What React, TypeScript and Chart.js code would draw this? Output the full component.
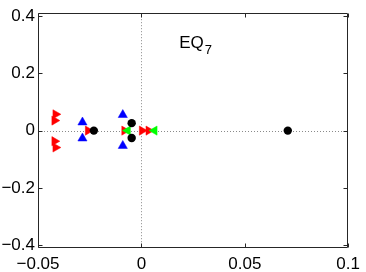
import React, { useEffect, useRef } from "react";
import { Chart, registerables } from "chart.js";

Chart.register(...registerables);

// ---- data ----
const redRight = [
  { x: -0.0415, y: 0.057 },
  { x: -0.042, y: 0.035 },
  { x: -0.042, y: -0.037 },
  { x: -0.0415, y: -0.059 },
  { x: -0.0258, y: 0 },
  { x: -0.0082, y: 0 },
  { x: 0.0003, y: 0 },
  { x: 0.0035, y: 0 },
];
const blueUp = [
  { x: -0.0285, y: 0.029 },
  { x: -0.0285, y: -0.027 },
  { x: -0.009, y: 0.055 },
  { x: -0.009, y: -0.053 },
];
const greenLeft = [
  { x: -0.0066, y: 0 },
  { x: 0.0063, y: 0 },
];
const blackDots = [
  { x: -0.023, y: 0 },
  { x: -0.0047, y: 0.026 },
  { x: -0.0047, y: -0.026 },
  { x: 0.0708, y: 0 },
];

const xTickValues = [-0.05, 0, 0.05, 0.1];
const xTickLabels = ["\u22120.05", "0", "0.05", "0.1"];
const yTickValues = [-0.4, -0.2, 0, 0.2, 0.4];
const yTickLabels = ["\u22120.4", "\u22120.2", "0", "0.2", "0.4"];
const xRange = [-0.05, 0.1];
const yRange = [-0.41, 0.41];

const titleMain = "EQ";
const titleSub = "7";
const titleAt = { x: 0.0183, y: 0.29 };

const FONT = "'Liberation Sans', Arial, Helvetica, sans-serif";

const framePlugin = {
  id: "frame",
  beforeDatasetsDraw(chart: any) {
    const { ctx, chartArea: a, scales } = chart;
    const xs = scales.x;
    const ys = scales.y;
    ctx.save();
    ctx.strokeStyle = "#8a8a8a";
    ctx.lineWidth = 1;
    ctx.setLineDash([1, 2]);
    const x0 = Math.round(xs.getPixelForValue(0)) + 0.5;
    const y0 = Math.round(ys.getPixelForValue(0)) + 0.5;
    ctx.beginPath();
    ctx.moveTo(x0, a.top);
    ctx.lineTo(x0, a.bottom);
    ctx.moveTo(a.left, y0);
    ctx.lineTo(a.right, y0);
    ctx.stroke();
    ctx.restore();
  },
  afterDraw(chart: any) {
    const { ctx, chartArea: a, scales } = chart;
    const xs = scales.x;
    const ys = scales.y;
    ctx.save();
    ctx.strokeStyle = "#262626";
    ctx.lineWidth = 1;
    const L = Math.round(a.left) + 0.5;
    const R = Math.round(a.right) - 0.5;
    const T = Math.round(a.top) + 0.5;
    const B = Math.round(a.bottom) - 0.5;
    ctx.beginPath();
    ctx.rect(L, T, R - L, B - T);
    const tl = 4;
    xs.ticks.forEach((t: any) => {
      const p = Math.round(xs.getPixelForValue(t.value)) + 0.5;
      ctx.moveTo(p, B);
      ctx.lineTo(p, B - tl);
      ctx.moveTo(p, T);
      ctx.lineTo(p, T + tl);
    });
    ys.ticks.forEach((t: any) => {
      const p = Math.round(ys.getPixelForValue(t.value)) + 0.5;
      ctx.moveTo(L, p);
      ctx.lineTo(L + tl, p);
      ctx.moveTo(R, p);
      ctx.lineTo(R - tl, p);
    });
    ctx.stroke();

    // annotation
    ctx.fillStyle = "#000";
    ctx.textBaseline = "alphabetic";
    ctx.textAlign = "left";
    ctx.font = `17px ${FONT}`;
    const tx = xs.getPixelForValue(titleAt.x);
    const ty = ys.getPixelForValue(titleAt.y);
    ctx.fillText(titleMain, tx, ty);
    const w = ctx.measureText(titleMain).width;
    ctx.font = `13px ${FONT}`;
    ctx.fillText(titleSub, tx + w + 1, ty + 6);
    ctx.restore();
  },
};

export default function App() {
  const ref = useRef<HTMLCanvasElement | null>(null);
  useEffect(() => {
    if (!ref.current) return;
    Chart.defaults.font.family = FONT;
    const chart = new Chart(ref.current, {
      type: "scatter",
      data: {
        datasets: [
          {
            label: "red",
            data: redRight,
            pointStyle: "triangle",
            rotation: 90,
            pointRadius: 5.3,
            backgroundColor: "#ff0000",
            borderColor: "#ff0000",
            borderWidth: 0.5,
            order: 4,
          },
          {
            label: "blue",
            data: blueUp,
            pointStyle: "triangle",
            rotation: 0,
            pointRadius: 5.3,
            backgroundColor: "#0000ff",
            borderColor: "#0000ff",
            borderWidth: 0.5,
            order: 3,
          },
          {
            label: "green",
            data: greenLeft,
            pointStyle: "triangle",
            rotation: -90,
            pointRadius: 5.3,
            backgroundColor: "#00ff00",
            borderColor: "#00ff00",
            borderWidth: 0.5,
            order: 2,
          },
          {
            label: "black",
            data: blackDots,
            pointStyle: "circle",
            pointRadius: 4.2,
            backgroundColor: "#000000",
            borderColor: "#000000",
            borderWidth: 0,
            order: 1,
          },
        ],
      },
      options: {
        responsive: false,
        animation: false,
        layout: { padding: { top: 11, right: 16, left: 0, bottom: 0 } },
        plugins: {
          legend: { display: false },
          tooltip: { enabled: false },
        },
        scales: {
          x: {
            type: "linear",
            min: xRange[0],
            max: xRange[1],
            grid: { display: false, drawTicks: false },
            border: { display: false },
            afterBuildTicks: (s: any) => {
              s.ticks = xTickValues.map((v) => ({ value: v }));
            },
            afterFit: (s: any) => {
              s.height = 24;
            },
            ticks: {
              autoSkip: false,
              maxRotation: 0,
              padding: 6,
              color: "#000",
              font: { size: 17, family: FONT },
              callback: (v: any) => {
                const i = xTickValues.findIndex((t) => Math.abs(t - v) < 1e-9);
                return i >= 0 ? xTickLabels[i] : "";
              },
            },
          },
          y: {
            type: "linear",
            min: yRange[0],
            max: yRange[1],
            grid: { display: false, drawTicks: false },
            border: { display: false },
            afterBuildTicks: (s: any) => {
              s.ticks = yTickValues.map((v) => ({ value: v }));
            },
            afterFit: (s: any) => {
              s.width = 38;
            },
            ticks: {
              autoSkip: false,
              padding: 3,
              color: "#000",
              font: { size: 17, family: FONT },
              callback: (v: any) => {
                const i = yTickValues.findIndex((t) => Math.abs(t - v) < 1e-9);
                return i >= 0 ? yTickLabels[i] : "";
              },
            },
          },
        },
      },
      plugins: [framePlugin],
    } as any);
    return () => chart.destroy();
  }, []);
  return (
    <div style={{ position: "fixed", left: 0, top: 0, width: 366, height: 272, background: "#fff" }}>
      <canvas ref={ref} width={366} height={272} style={{ width: 366, height: 272 }} />
    </div>
  );
}
